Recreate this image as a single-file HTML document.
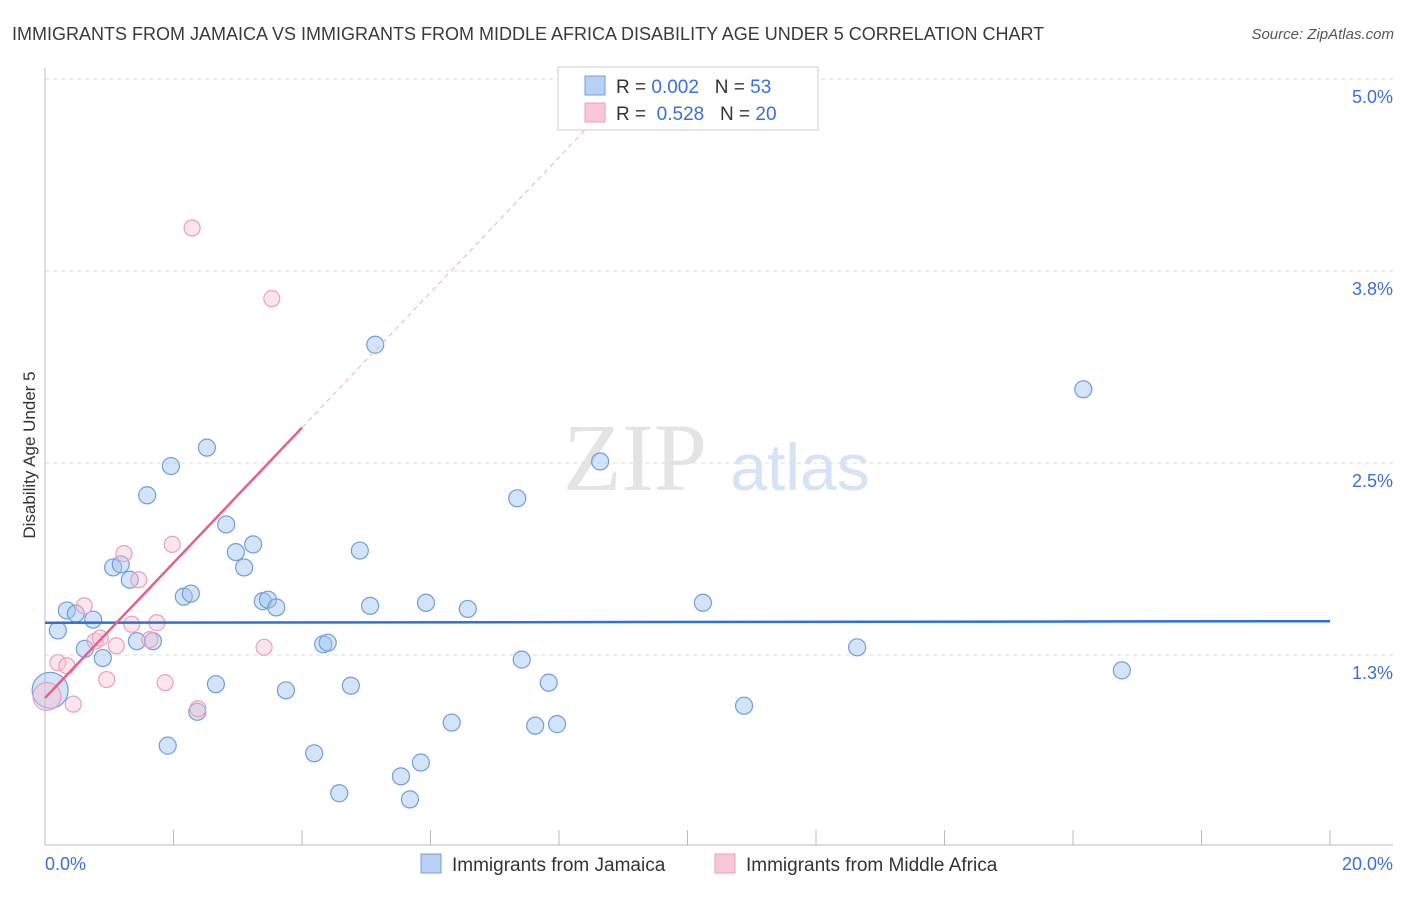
<!DOCTYPE html>
<html><head><meta charset="utf-8"><style>
body{margin:0;background:#fff;font-family:"Liberation Sans",sans-serif}
</style></head><body>
<svg id="c" width="1406" height="892" xmlns="http://www.w3.org/2000/svg" font-family="Liberation Sans, sans-serif">
<text x="12" y="40" font-size="18" fill="#3a3a3a">IMMIGRANTS FROM JAMAICA VS IMMIGRANTS FROM MIDDLE AFRICA DISABILITY AGE UNDER 5 CORRELATION CHART</text>
<text x="1394" y="39" font-size="15" fill="#555" font-style="italic" text-anchor="end">Source: ZipAtlas.com</text>
<text x="35" y="455" font-size="17" fill="#333" text-anchor="middle" transform="rotate(-90 35 455)">Disability Age Under 5</text>
<g><text x="635" y="490" font-size="96" fill="#e4e4e4" font-family="Liberation Serif, serif" text-anchor="middle">ZIP</text><text x="800" y="490" font-size="66" fill="#d6e2f5" text-anchor="middle">atlas</text></g>
<g id="grid"></g><g id="axes"></g><g id="marks"></g>
<g>
<rect x="558" y="67" width="260" height="63" fill="#fff" stroke="#ccc"/>
<rect x="585" y="76" width="20" height="19" fill="#b9d0f5" stroke="#6f9de0"/>
<rect x="585" y="103" width="20" height="19" fill="#f9c6d6" stroke="#eaa0b8"/>
<text x="616" y="93" font-size="19" fill="#333">R = <tspan fill="#3a6fd8">0.002</tspan>&#160;&#160;&#160;N = <tspan fill="#3a6fd8">53</tspan></text>
<text x="616" y="120" font-size="19" fill="#333">R = &#160;<tspan fill="#3a6fd8">0.528</tspan>&#160;&#160;&#160;N = <tspan fill="#3a6fd8">20</tspan></text>
</g>
<g>
<rect x="421" y="854" width="20" height="19" fill="#b9d0f5" stroke="#6f9de0"/>
<text x="452" y="871" font-size="19" fill="#333">Immigrants from Jamaica</text>
<rect x="715" y="854" width="20" height="19" fill="#f9c6d6" stroke="#eaa0b8"/>
<text x="746" y="871" font-size="19" fill="#333">Immigrants from Middle Africa</text>
</g>
</svg>
<script>
const yTicks=[5.0,3.75,2.5,1.25];
const yTickLabels=["5.0%","3.8%","2.5%","1.3%"];
const xTickLabels=["0.0%","20.0%"];
const blueX=[0.34,0.48,0.75,0.20,0.62,0.90,1.06,1.18,1.32,1.59,1.96,2.52,2.82,2.97,3.24,3.10,2.16,2.27,3.39,3.47,3.60,1.43,1.68,4.33,4.40,2.66,2.37,1.91,3.75,4.19,4.58,4.76,4.90,5.14,5.06,5.54,5.68,5.85,5.93,6.33,6.58,7.35,7.42,7.63,7.84,7.97,8.64,10.24,10.88,12.64,16.16,16.76,0.08];
const blueY=[1.54,1.52,1.48,1.41,1.29,1.23,1.82,1.84,1.74,2.29,2.48,2.60,2.10,1.92,1.97,1.82,1.63,1.65,1.60,1.61,1.56,1.34,1.34,1.32,1.33,1.06,0.88,0.66,1.02,0.61,0.35,1.05,1.93,3.27,1.57,0.46,0.31,0.55,1.59,0.81,1.55,2.27,1.22,0.79,1.07,0.80,2.51,1.59,0.92,1.30,2.98,1.15,1.02];
const pinkX=[2.29,3.53,1.98,1.23,1.46,0.61,1.35,1.74,0.78,0.86,1.11,1.63,3.41,0.20,0.34,0.96,1.87,2.38,0.44,0.03];
const pinkY=[4.03,3.57,1.97,1.91,1.74,1.57,1.45,1.46,1.34,1.36,1.31,1.35,1.30,1.20,1.18,1.09,1.07,0.90,0.93,0.98];
const blueLine=[1.46,0.0005];   // intercept, slope
const pinkLine=[0.97,0.44];
const NS="http://www.w3.org/2000/svg";
const X=v=>45+v*64.25, Y=v=>847-v*153.6;
function mk(p,t,a){const e=document.createElementNS(NS,t);for(const k in a)e.setAttribute(k,a[k]);document.getElementById(p).appendChild(e);return e;}
yTicks.forEach((t,i)=>{
 const g=mk('grid','line',{x1:45,x2:1393,y1:Y(t),y2:Y(t),stroke:'#ddd','stroke-dasharray':'4,4'});
 
 
 const l=mk('axes','text',{x:1393,y:Y(t)+24,'font-size':18,fill:'#3a6fd8','text-anchor':'end'});
 l.textContent=yTickLabels[i];
 
 
});
let a=mk('axes','line',{x1:45,x2:45,y1:68,y2:845,stroke:'#bbb'});


a=mk('axes','line',{x1:45,x2:1393,y1:845,y2:845,stroke:'#bbb'});


for(let i=0;i<=10;i++){const t=mk('axes','line',{x1:X(i*2),x2:X(i*2),y1:830,y2:845,stroke:'#bbb'});
 
 }
[[0,'start'],[20,'end']].forEach((d,i)=>{const l=mk('axes','text',{x:i?1393:45,y:870,'font-size':18,fill:'#3a6fd8','text-anchor':d[1]});
 l.textContent=xTickLabels[i];
 
 });
blueX.forEach((x,i)=>{const c=mk('marks','circle',{cx:X(x),cy:Y(blueY[i]),r:i==blueX.length-1?18:8.5,fill:'rgba(160,195,240,0.45)',stroke:'#6f9de0','stroke-width':1.2});
 
 });
pinkX.forEach((x,i)=>{const c=mk('marks','circle',{cx:X(x),cy:Y(pinkY[i]),r:i==pinkX.length-1?14:8,fill:'rgba(248,190,208,0.4)',stroke:'#eaa0b8','stroke-width':1.2});
 
 });
let L=mk('marks','line',{x1:X(0),x2:X(20),y1:Y(blueLine[0]),y2:Y(blueLine[0]+blueLine[1]*20),stroke:'#2f6fd6','stroke-width':2.5});


L=mk('marks','line',{x1:X(0),x2:X(4),y1:Y(pinkLine[0]),y2:Y(pinkLine[0]+pinkLine[1]*4),stroke:'#e8608a','stroke-width':2.5});


L=mk('marks','line',{x1:X(4),x2:X(8.4),y1:Y(pinkLine[0]+pinkLine[1]*4),y2:Y(pinkLine[0]+pinkLine[1]*8.4),stroke:'#eab0c0','stroke-width':1,'stroke-dasharray':'5,4'});


</script>
</body></html>
